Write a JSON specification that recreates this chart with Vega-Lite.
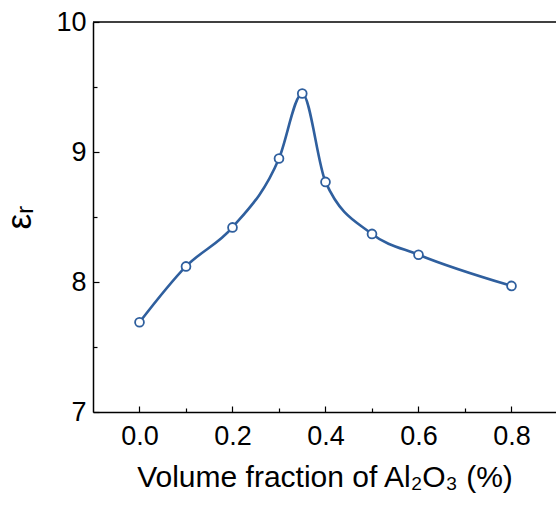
{
  "$schema": "https://vega.github.io/schema/vega-lite/v6.json",
  "autosize": "none",
  "width": 463,
  "height": 390,
  "padding": {"left": 93, "top": 22, "right": 0, "bottom": 94},
  "background": "white",
  "config": {"view": {"stroke": null}, "font": "Liberation Sans"},
  "datasets": {
    "pts": [
      {"x": 0.0, "y": 7.69},
      {"x": 0.1, "y": 8.12},
      {"x": 0.2, "y": 8.42},
      {"x": 0.3, "y": 8.95},
      {"x": 0.35, "y": 9.45},
      {"x": 0.4, "y": 8.77},
      {"x": 0.5, "y": 8.37},
      {"x": 0.6, "y": 8.21},
      {"x": 0.8, "y": 7.97}
    ],
    "top": [{"y": 10}]
  },
  "layer": [
    {
      "data": {"name": "top"},
      "mark": {"type": "rule", "color": "black", "strokeWidth": 1.5},
      "encoding": {
        "y": {"field": "y", "type": "quantitative", "scale": {"domain": [7, 10]}}
      }
    },
    {
      "data": {"name": "pts"},
      "mark": {"type": "line", "color": "#2F5F9E", "strokeWidth": 2.6, "interpolate": "monotone"},
      "encoding": {
        "x": {
          "field": "x", "type": "quantitative",
          "scale": {"domain": [-0.1, 0.8957], "nice": false, "zero": false},
          "axis": {
            "values": [0, 0.1, 0.2, 0.3, 0.4, 0.5, 0.6, 0.7, 0.8],
            "labelExpr": "round(datum.value*10)%2==0 ? format(datum.value,'.1f') : ''",
            "grid": false,
            "domainColor": "black", "domainWidth": 1.5,
            "tickColor": "black", "tickWidth": 1.2,
            "tickSize": {"condition": {"test": "round(datum.value*10)%2==0", "value": -6}, "value": -4},
            "labelFontSize": 27, "labelColor": "black", "labelPadding": 17,
            "labelFlush": false,
            "title": "Volume fraction of Al₂O₃ (%)",
            "titleFontSize": 30, "titleFontWeight": "normal", "titleColor": "black",
            "titlePadding": 13
          }
        },
        "y": {
          "field": "y", "type": "quantitative",
          "scale": {"domain": [7, 10], "nice": false, "zero": false},
          "axis": {
            "values": [7, 7.5, 8, 8.5, 9, 9.5, 10],
            "labelExpr": "datum.value%1==0 ? format(datum.value,'d') : ''",
            "grid": false,
            "domainColor": "black", "domainWidth": 1.5,
            "tickColor": "black", "tickWidth": 1.2,
            "tickSize": {"condition": {"test": "datum.value%1==0", "value": -6}, "value": -4},
            "labelFontSize": 27, "labelColor": "black", "labelPadding": 13,
            "labelFlush": false,
            "title": "εᵣ",
            "titleFontSize": 35, "titleFontWeight": "normal", "titleFontStyle": "normal",
            "titleColor": "black", "titlePadding": 18
          }
        }
      }
    },
    {
      "data": {"name": "pts"},
      "mark": {"type": "point", "shape": "circle", "filled": true, "fill": "white", "stroke": "#2F5F9E", "strokeWidth": 1.8, "size": 78, "opacity": 1},
      "encoding": {
        "x": {"field": "x", "type": "quantitative"},
        "y": {"field": "y", "type": "quantitative"}
      }
    }
  ]
}
